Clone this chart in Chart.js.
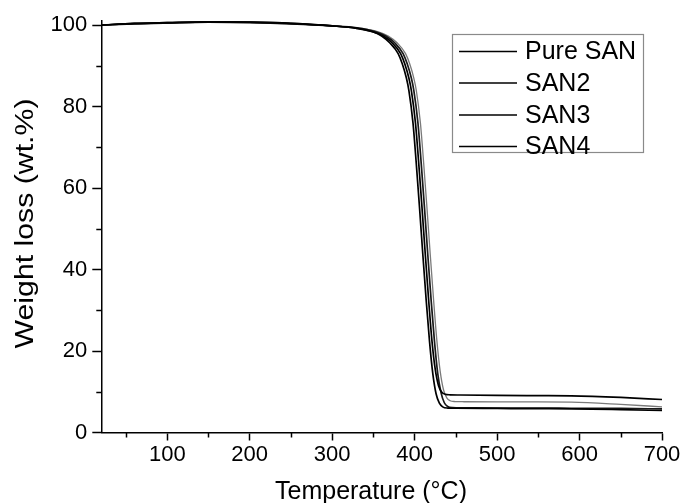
<!DOCTYPE html>
<html><head><meta charset="utf-8">
<script src="https://cdn.jsdelivr.net/npm/chart.js@4.4.1/dist/chart.umd.min.js"></script>
<style>html,body{margin:0;padding:0;background:#fff;}#wrap{width:683px;height:503px;position:relative;}</style>
</head><body><div id="wrap"><canvas id="c" width="683" height="503"></canvas></div>
<script>
const seriesNames = ['Pure SAN', 'SAN2', 'SAN3', 'SAN4'];

const tempPure = [20,60,100,150,200,250,300,330,350,360,370,380,385,390,393,398,402,406,410,414,418,422,426,430,434,440,450,500,550,590,650,700];
const wlPure   = [100.0,100.4,100.6,100.8,100.7,100.4,99.8,99.2,98.3,97.3,95.6,93.0,90.5,87.0,84.0,76.0,66.0,55.0,43.5,32.5,22.5,14.5,9.5,7.2,6.3,6.0,5.95,5.9,5.85,5.8,5.6,5.4];

const tempSAN2 = [20,60,100,150,200,250,300,330,350,362,373,383,388,393,396,401,405,409,413,417,421,425,429,433,437,443,455,500,550,590,650,700];
const wlSAN2   = [100.0,100.4,100.6,100.8,100.7,100.4,99.8,99.2,98.3,97.3,95.6,93.0,90.5,87.0,84.0,76.0,66.0,55.0,43.5,32.5,22.5,15.5,11.5,9.9,9.4,9.25,9.2,9.1,9.05,9.0,8.6,8.1];

const tempSAN3 = [20,60,100,150,200,250,300,330,352,365,376,386,391,396,399,404,408,412,416,420,424,428,432,436,440,446,458,500,550,590,650,700];
const wlSAN3   = [100.0,100.3,100.5,100.7,100.6,100.3,99.8,99.3,98.4,97.3,95.6,93.0,90.5,87.0,84.0,76.0,66.0,55.0,43.5,32.5,22.5,14.5,9.8,7.3,6.4,6.1,6.05,6.0,6.0,5.95,5.9,5.8];

const tempSAN4 = [20,60,100,150,200,250,300,330,355,368,379,389,394,399,402,407,411,415,419,423,427,431,435,439,443,449,460,500,550,590,650,700];
const wlSAN4   = [100.0,100.3,100.5,100.7,100.6,100.3,99.8,99.3,98.4,97.3,95.6,93.0,90.5,87.0,84.0,76.0,66.0,55.0,43.5,32.5,22.5,15.0,10.5,8.5,7.8,7.6,7.55,7.5,7.5,7.45,6.9,6.3];

const xMajorTicks = [100,200,300,400,500,600,700];
const xMinorTicks = [50,150,250,350,450,550,650];
const yMajorTicks = [0,20,40,60,80,100];
const yMinorTicks = [10,30,50,70,90];
const xTitle = 'Temperature (°C)';
const yTitle = 'Weight loss (wt.%)';

const FONT = '"Liberation Sans", Arial, sans-serif';
const lineColors = ['#000000', '#000000', '#1a1a1a', '#7a7a7a'];
const lineWidths = [1.7, 1.7, 1.7, 1.3];

function pts(t, v) { return t.map((x, i) => ({ x: x, y: v[i] })); }
const allSeries = [[tempPure, wlPure], [tempSAN2, wlSAN2], [tempSAN3, wlSAN3], [tempSAN4, wlSAN4]];

const extras = {
  id: 'extras',
  afterDraw(chart) {
    const ctx = chart.ctx;
    const xs = chart.scales.x, ys = chart.scales.y;
    const ca = chart.chartArea;
    ctx.save();
    // minor ticks
    ctx.strokeStyle = '#000';
    ctx.lineWidth = 1.5;
    ctx.beginPath();
    xMinorTicks.forEach(v => {
      const px = Math.round(xs.getPixelForValue(v)) + 0.5;
      ctx.moveTo(px, ca.bottom); ctx.lineTo(px, ca.bottom + 5);
    });
    yMinorTicks.forEach(v => {
      const py = Math.round(ys.getPixelForValue(v)) + 0.5;
      ctx.moveTo(ca.left, py); ctx.lineTo(ca.left - 5, py);
    });
    ctx.stroke();
    // axis titles
    ctx.fillStyle = '#000';
    ctx.font = '25px ' + FONT;
    ctx.textAlign = 'center';
    ctx.textBaseline = 'alphabetic';
    ctx.fillText(xTitle, 371, 499);
    const yw = ctx.measureText(yTitle).width;
    ctx.translate(33, 223.5);
    ctx.rotate(-Math.PI / 2);
    ctx.scale(250 / yw, 1);
    ctx.fillText(yTitle, 0, 0);
    ctx.restore();
    // legend
    ctx.save();
    const bx = 452.5, by = 34.5, bw = 191, bh = 118;
    ctx.fillStyle = '#fff';
    ctx.fillRect(bx, by, bw, bh);
    ctx.strokeStyle = '#8a8a8a';
    ctx.lineWidth = 1.2;
    ctx.strokeRect(bx, by, bw, bh);
    const rows = [51.5, 83, 115, 146.5];
    ctx.font = '25px ' + FONT;
    ctx.textAlign = 'left';
    ctx.textBaseline = 'middle';
    chart.data.datasets.forEach((ds, i) => {
      ctx.strokeStyle = '#000';
      ctx.lineWidth = 1.7;
      ctx.beginPath();
      ctx.moveTo(459, rows[i]); ctx.lineTo(517, rows[i]);
      ctx.stroke();
      ctx.fillStyle = '#000';
      ctx.fillText(ds.label, 525, rows[i] + 1);
    });
    ctx.restore();
  }
};

new Chart(document.getElementById('c'), {
  type: 'line',
  data: {
    datasets: allSeries.map((s, i) => ({
      label: seriesNames[i],
      data: pts(s[0], s[1]),
      borderColor: lineColors[i],
      borderWidth: lineWidths[i],
      pointRadius: 0,
      fill: false,
      cubicInterpolationMode: 'monotone',
      clip: 6
    }))
  },
  options: {
    responsive: false,
    animation: false,
    events: [],
    layout: { padding: { top: 21, right: 21, left: 0, bottom: 0 } },
    plugins: { legend: { display: false }, tooltip: { enabled: false } },
    scales: {
      x: {
        type: 'linear', min: 20, max: 700,
        afterBuildTicks: s => { s.ticks = xMajorTicks.map(v => ({ value: v })); },
        afterFit: s => { s.height = 70.5; },
        grid: { drawOnChartArea: false, drawTicks: true, tickLength: 8, tickColor: '#000', tickWidth: 1.5 },
        border: { display: true, color: '#000', width: 1.5 },
        ticks: { color: '#000', font: { family: FONT, size: 22 }, padding: 1, maxRotation: 0, autoSkip: false }
      },
      y: {
        type: 'linear', min: 0, max: 101,
        afterBuildTicks: s => { s.ticks = yMajorTicks.map(v => ({ value: v })); },
        afterFit: s => { s.width = 101.3; },
        grid: { drawOnChartArea: false, drawTicks: true, tickLength: 9, tickColor: '#000', tickWidth: 1.5 },
        border: { display: true, color: '#000', width: 1.5 },
        ticks: { color: '#000', font: { family: FONT, size: 22 }, padding: 5, autoSkip: false }
      }
    }
  },
  plugins: [extras]
});
</script>
</body></html>
